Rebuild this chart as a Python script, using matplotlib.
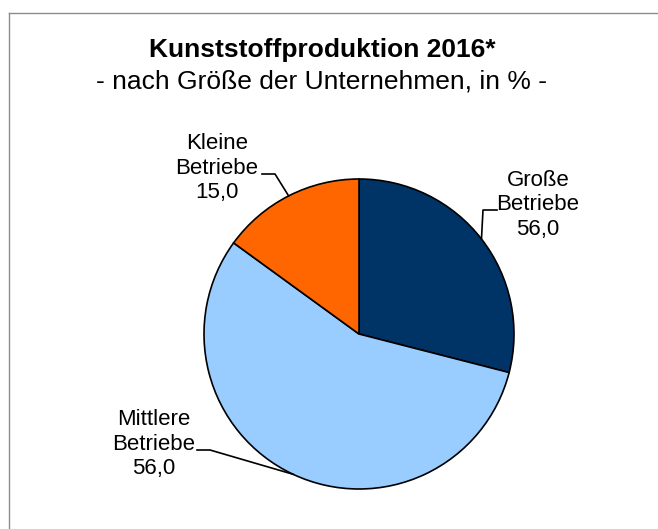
"""Pie chart: Kunststoffproduktion 2016 nach Größe der Unternehmen."""

import numpy as np
import matplotlib
matplotlib.use("Agg")
import matplotlib.pyplot as plt
from matplotlib.lines import Line2D

plt.rcParams['font.family'] = ['Liberation Sans', 'DejaVu Sans']

# Data (slice shares; printed labels as in the original)
categories = ["Große\nBetriebe", "Mittlere\nBetriebe", "Kleine\nBetriebe"]
shares = [29.0, 56.0, 15.0]
value_labels = ["56,0", "56,0", "15,0"]
colors = ["#003366", "#99CCFF", "#FF6600"]

title = "Kunststoffproduktion 2016*"
subtitle = "- nach Größe der Unternehmen, in % -"

W, H = 658, 529


def px(x, y):
    """Convert pixel coords (origin top-left) to axes data coords (y up)."""
    return x, H - y


fig = plt.figure(figsize=(W / 100, H / 100), dpi=100)
ax = fig.add_axes([0, 0, 1, 1])

# outer frame (only left and top edges visible)
frame_kw = dict(color="#8c8c8c", lw=1.0, transform=ax.transData)
fig.add_artist(Line2D([8.5, 8.5], [0, H - 13], **frame_kw))
fig.add_artist(Line2D([8.5, W], [H - 13, H - 13], **frame_kw))

center = px(359, 334)
radius = 155
wedges, _ = ax.pie(
    shares, colors=colors, startangle=90, counterclock=False,
    center=center, radius=radius, frame=True,
    wedgeprops=dict(edgecolor="black", linewidth=1.2),
)
ax.set_xlim(0, W)
ax.set_ylim(0, H)
ax.set_aspect('equal')
ax.axis('off')

ax.text(*px(322, 50), title, ha='center', va='center',
        fontsize=19, fontweight='bold')
ax.text(*px(322, 81), subtitle, ha='center', va='center', fontsize=19)

# label layout: text centre, elbow start, elbow end (pixel coords)
label_pos = [(538, 205), (154, 444), (217, 168)]
elbows = [((497, 210), (483, 210)), ((197, 450), (210, 450)),
          ((262, 174), (275, 174))]

for w, cat, val, pos, (e0, e1) in zip(wedges, categories, value_labels,
                                      label_pos, elbows):
    ax.text(*px(*pos), f"{cat}\n{val}", ha='center', va='center',
            fontsize=16, linespacing=1.2)
    mid = np.deg2rad((w.theta1 + w.theta2) / 2)
    tip = (center[0] + radius * np.cos(mid), center[1] + radius * np.sin(mid))
    p0, p1 = px(*e0), px(*e1)
    ax.plot([p0[0], p1[0], tip[0]], [p0[1], p1[1], tip[1]],
            color="black", lw=1.2)

fig.savefig("out.png", dpi=100)
